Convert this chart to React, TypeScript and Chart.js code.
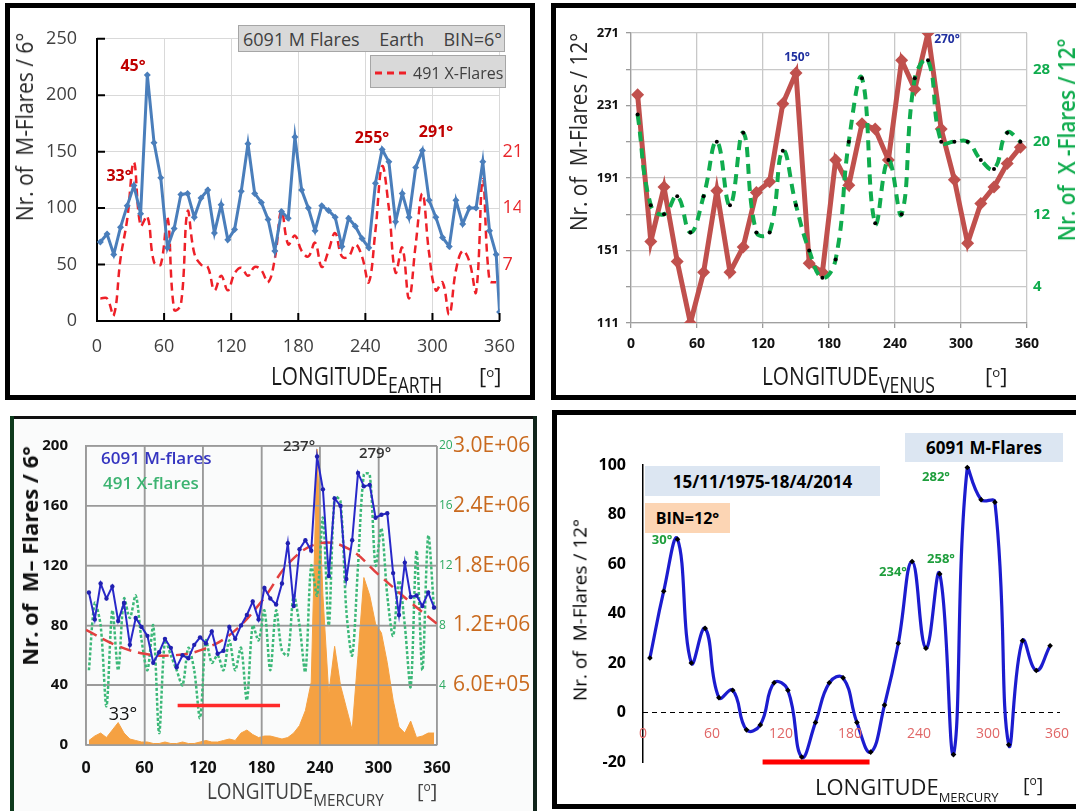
import React, { useEffect, useRef } from 'react';
import { Chart, registerables } from 'chart.js';

Chart.register(...registerables);

const FONT = '"Open Sans", "DejaVu Sans", sans-serif';

// ---------- shared categories ----------
const lonTicks = [0, 60, 120, 180, 240, 300, 360];
const bins6 = [3, 9, 15, 21, 27, 33, 39, 45, 51, 57, 63, 69, 75, 81, 87, 93, 99, 105, 111, 117, 123, 129, 135, 141, 147, 153, 159, 165, 171, 177, 183, 189, 195, 201, 207, 213, 219, 225, 231, 237, 243, 249, 255, 261, 267, 273, 279, 285, 291, 297, 303, 309, 315, 321, 327, 333, 339, 345, 351, 357];
const bins12 = [6, 18, 30, 42, 54, 66, 78, 90, 102, 114, 126, 138, 150, 162, 174, 186, 198, 210, 222, 234, 246, 258, 270, 282, 294, 306, 318, 330, 342, 354];

// ---------- panel A: Earth, BIN=6° ----------
const earthMLon = [...bins6, 360];
const earthM = [70, 77, 59, 83, 102, 120, 95, 218, 158, 127, 65, 82, 112, 113, 92, 109, 116, 78, 103, 72, 81, 115, 157, 113, 105, 90, 62, 97, 91, 163, 116, 100, 80, 102, 98, 92, 66, 91, 84, 73, 65, 122, 152, 141, 88, 113, 92, 136, 151, 107, 92, 74, 66, 107, 86, 100, 100, 141, 80, 59, 8];
const earthX = [2.8, 2.8, 0.7, 7.7, 12.6, 19.7, 11.8, 13.0, 7.3, 7.0, 12.9, 1.4, 2.0, 13.6, 8.4, 7.0, 6.7, 3.8, 5.6, 3.8, 5.9, 6.6, 5.6, 6.7, 6.3, 4.8, 7.7, 13.7, 9.5, 10.6, 8.7, 8.0, 9.7, 6.7, 8.7, 10.9, 8.0, 8.0, 9.5, 8.0, 4.8, 11.2, 19.2, 14.0, 6.0, 9.1, 2.8, 9.5, 15.8, 8.4, 3.8, 4.8, 0.8, 6.3, 8.7, 7.4, 3.6, 17.6, 5.0, 4.8];
const earthRightTicks = [7, 14, 21];

// ---------- panel B: Venus, BIN=12° ----------
const venusM = [237, 156, 186, 145, 111, 139, 184, 139, 153, 183, 189, 232, 249, 144, 139, 201, 187, 221, 218, 201, 256, 240, 271, 218, 190, 155, 177, 186, 199, 208];
const venusX = [23, 13, 12, 14, 10, 14, 20, 13, 21, 10, 10, 19, 13, 8, 5, 7, 20, 27, 11, 18, 12, 27, 29, 20, 20, 20, 18, 17, 21, 20];
const venusRightTicks = [4, 12, 20, 28];

// ---------- panel C: Mercury, BIN=6° ----------
const mercM6 = [102, 84, 108, 98, 106, 83, 95, 67, 85, 79, 73, 55, 62, 71, 65, 52, 60, 58, 67, 72, 68, 76, 61, 63, 79, 71, 80, 87, 96, 84, 105, 98, 94, 108, 135, 93, 131, 137, 130, 193, 171, 113, 165, 160, 111, 137, 182, 173, 174, 152, 154, 155, 115, 87, 122, 99, 100, 93, 102, 92];
const mercX6 = [5, 9.5, 8, 2.6, 9, 5, 9.8, 8.5, 10, 7, 5, 8, 0.8, 7, 6, 5, 4, 6.5, 5, 1.8, 7, 5.5, 6, 5, 7, 5, 6.5, 3, 8, 7, 9, 5, 9, 6.3, 6, 10, 8, 4.9, 12, 10, 15.2, 8, 16.6, 16.3, 9, 6, 12, 18.1, 18.1, 12, 14.5, 10, 7.3, 11, 8, 3.9, 13, 5, 14, 9];
const mercTrendLon = [0, 30, 60, 90, 120, 150, 180, 210, 240, 270, 300, 330, 360];
const mercTrend = [77, 67, 61, 60, 64, 75, 96, 123, 135, 131, 114, 97, 81];
const mercOrange = [45000, 90000, 120000, 75000, 150000, 225000, 120000, 60000, 45000, 30000, 30000, 15000, 15000, 30000, 15000, 15000, 30000, 15000, 15000, 30000, 45000, 30000, 30000, 45000, 60000, 45000, 120000, 150000, 105000, 75000, 90000, 90000, 75000, 60000, 75000, 120000, 195000, 345000, 630000, 2970000, 1500000, 510000, 990000, 600000, 375000, 150000, 900000, 1680000, 1500000, 1215000, 1125000, 825000, 450000, 180000, 120000, 240000, 75000, 90000, 120000, 120000];
const mercGreenTicks = [4, 8, 12, 16, 20];
const mercOrangeTicks = [600000, 1200000, 1800000, 2400000, 3000000];
const mercBarLon = [94, 199];
const mercBarLevel = [26.5, 26.5];

// ---------- panel D: Mercury, BIN=12° ----------
const merc12M = [22, 49, 70, 20, 34, 6, 9, -7, -5, 12, 9, -18, -4, 12, 14, -4, -16, 3, 28, 61, 26, 56, -17, 99, 86, 85, -13, 29, 17, 27];
const merc12BarLon = [104, 197];
const merc12BarLevel = [-20, -20];

const pts = (xs: number[], ys: number[]) => ys.map((y, i) => ({ x: xs[i], y }));
const fixedTicks = (vals: number[]) => (s: any) => { s.ticks = vals.map((v) => ({ value: v })); };
const fixW = (w: number) => (s: any) => { s.width = w; };
const fixH = (h: number) => (s: any) => { s.height = h; };

const innerTicksPlugin = {
  id: 'innerTicks',
  afterDraw(chart: any, _a: any, opts: any) {
    const { ctx, chartArea: ca, scales } = chart;
    ctx.save();
    ctx.strokeStyle = opts.color;
    ctx.lineWidth = opts.width;
    ctx.beginPath();
    scales.x.ticks.forEach((t: any) => {
      const px = scales.x.getPixelForValue(t.value);
      ctx.moveTo(px, ca.bottom);
      ctx.lineTo(px, ca.bottom - opts.len);
    });
    scales.y.ticks.forEach((t: any) => {
      const py = scales.y.getPixelForValue(t.value);
      ctx.moveTo(ca.left, py);
      ctx.lineTo(ca.left + opts.len, py);
    });
    ctx.stroke();
    ctx.restore();
  },
};

const gridOverPlugin = {
  id: 'gridOver',
  afterDatasetDraw(chart: any, args: any, opts: any) {
    if (args.index !== opts.index) return;
    const { ctx, chartArea: ca, scales } = chart;
    ctx.save();
    ctx.strokeStyle = opts.color;
    ctx.lineWidth = opts.width;
    ctx.beginPath();
    scales.x.ticks.forEach((t: any) => {
      const px = scales.x.getPixelForValue(t.value);
      ctx.moveTo(px, ca.top);
      ctx.lineTo(px, ca.bottom);
    });
    scales.y.ticks.forEach((t: any) => {
      const py = scales.y.getPixelForValue(t.value);
      ctx.moveTo(ca.left, py);
      ctx.lineTo(ca.right, py);
    });
    ctx.stroke();
    ctx.restore();
  },
};

const zeroAxisPlugin = {
  id: 'zeroAxis',
  beforeDatasetsDraw(chart: any) {
    const { ctx, chartArea: ca, scales } = chart;
    const y0 = scales.y.getPixelForValue(0);
    ctx.save();
    ctx.setLineDash([5, 4]);
    ctx.strokeStyle = '#000';
    ctx.lineWidth = 1;
    ctx.beginPath();
    ctx.moveTo(ca.left, y0);
    ctx.lineTo(ca.right + 3, y0);
    ctx.stroke();
    ctx.restore();
  },
  afterDraw(chart: any, _a: any, opts: any) {
    const { ctx, scales } = chart;
    const y0 = scales.y.getPixelForValue(0);
    ctx.save();
    ctx.font = `14px ${FONT}`;
    ctx.fillStyle = '#e06666';
    ctx.textAlign = 'center';
    ctx.textBaseline = 'middle';
    (opts.ticks as number[]).forEach((v) => ctx.fillText(String(v), scales.x.getPixelForValue(v), y0 + opts.offset));
    ctx.restore();
  },
};

const common = {
  responsive: false,
  maintainAspectRatio: false,
  animation: false as const,
  events: [] as any[],
};

function cfgEarth(): any {
  return {
    type: 'line',
    data: {
      datasets: [
        { label: '6091 M Flares', data: pts(earthMLon, earthM), yAxisID: 'y', borderColor: '#4a7ebb', backgroundColor: '#4a7ebb', borderWidth: 3, pointStyle: 'rectRot', pointRadius: 3.5, pointBorderWidth: 0, tension: 0, order: 1 },
        { label: '491 X-Flares', data: pts(bins6, earthX), yAxisID: 'y2', borderColor: '#ee2028', borderWidth: 2.5, borderDash: [8, 5], pointRadius: 0, tension: 0.4, order: 2 },
      ],
    },
    options: {
      ...common,
      layout: { padding: { top: 14, left: 0, right: 0, bottom: 0 } },
      plugins: { legend: { display: false }, tooltip: { enabled: false }, innerTicks: { len: 8, color: '#000', width: 2 } },
      scales: {
        x: {
          type: 'linear', min: 0, max: 360,
          ticks: { stepSize: 60, autoSkip: false, maxRotation: 0, padding: 15, color: '#404040', font: { family: FONT, size: 18 } },
          grid: { color: '#d9d9d9', lineWidth: 1, drawTicks: false },
          border: { color: '#000', width: 2 },
          afterFit: fixH(74),
        },
        y: {
          min: 0, max: 250,
          ticks: { stepSize: 50, padding: 20, color: '#404040', font: { family: FONT, size: 18 } },
          grid: { color: '#d9d9d9', lineWidth: 1, drawTicks: false },
          border: { color: '#000', width: 2 },
          afterFit: fixW(87),
        },
        y2: {
          position: 'right', min: 0, max: 35,
          afterBuildTicks: fixedTicks(earthRightTicks),
          ticks: { padding: 3, color: '#e8262b', font: { family: FONT, size: 18 } },
          grid: { display: false, drawTicks: false },
          border: { display: false },
          afterFit: fixW(21),
        },
      },
    },
    plugins: [innerTicksPlugin],
  };
}

function cfgVenus(): any {
  return {
    type: 'line',
    data: {
      datasets: [
        { label: 'X-Flares', data: pts(bins12, venusX), yAxisID: 'y2', borderColor: '#10ac4e', borderWidth: 4, borderDash: [10, 7], pointRadius: 2, pointBackgroundColor: '#000', pointBorderWidth: 0, tension: 0.45, order: 1 },
        { label: 'M-Flares', data: pts(bins12, venusM), yAxisID: 'y', borderColor: '#c0504d', backgroundColor: '#c0504d', borderWidth: 5, pointStyle: 'rectRot', pointRadius: 6.5, pointBorderWidth: 0, tension: 0, order: 2 },
      ],
    },
    options: {
      ...common,
      layout: { padding: { top: 25, left: 0, right: 0, bottom: 0 } },
      plugins: { legend: { display: false }, tooltip: { enabled: false } },
      scales: {
        x: {
          type: 'linear', min: 0, max: 360,
          ticks: { stepSize: 60, autoSkip: false, maxRotation: 0, padding: 8, color: '#111', font: { family: FONT, size: 14, weight: 'bold' } },
          grid: { color: '#c8c8c8', lineWidth: 1.3, drawTicks: true, tickLength: 5, tickColor: '#9a9a9a' },
          border: { color: '#a0a0a0', width: 1.3 },
          afterFit: fixH(67),
        },
        y: {
          min: 111, max: 271,
          ticks: { stepSize: 20, padding: 7, color: '#111', font: { family: FONT, size: 13, weight: 'bold' }, callback: (v: any) => ((v - 111) % 40 === 0 ? String(v) : '') },
          grid: { color: '#c8c8c8', lineWidth: 1.3, drawTicks: true, tickLength: 5, tickColor: '#9a9a9a' },
          border: { color: '#a0a0a0', width: 1.3 },
          afterFit: fixW(75),
        },
        y2: {
          position: 'right', min: 0, max: 32,
          afterBuildTicks: fixedTicks(venusRightTicks),
          ticks: { padding: 6, color: '#10ac4e', font: { family: FONT, size: 15, weight: 'bold' } },
          grid: { display: false, drawTicks: false },
          border: { display: false },
          afterFit: fixW(44),
        },
      },
    },
  };
}

function cfgMerc6(): any {
  return {
    type: 'line',
    data: {
      datasets: [
        { label: 'M-flares', data: pts(bins6, mercM6), yAxisID: 'y', borderColor: '#2828c8', backgroundColor: '#2020b0', borderWidth: 2, pointRadius: 2.2, pointBorderWidth: 0, tension: 0, order: 1 },
        { label: 'bar', data: pts(mercBarLon, mercBarLevel), yAxisID: 'y', borderColor: '#ff2a2a', borderWidth: 3.5, pointRadius: 0, order: 2 },
        { label: 'trend', data: pts(mercTrendLon, mercTrend), yAxisID: 'y', borderColor: '#e2403f', borderWidth: 2.5, borderDash: [12, 7], pointRadius: 0, tension: 0.4, order: 3 },
        { label: 'X-flares', data: pts(bins6, mercX6), yAxisID: 'yg', borderColor: '#3cb878', borderWidth: 2.5, borderDash: [3, 2], pointRadius: 0, tension: 0.3, order: 4 },
        { label: 'orange', data: pts(bins6, mercOrange), yAxisID: 'yo', borderColor: '#f5a142', backgroundColor: '#f5a142', borderWidth: 1, fill: 'origin', pointRadius: 0, tension: 0, order: 10 },
      ],
    },
    options: {
      ...common,
      layout: { padding: { top: 17, left: 0, right: 0, bottom: 0 } },
      plugins: { legend: { display: false }, tooltip: { enabled: false }, gridOver: { index: 4, color: '#9a9a9a', width: 1.5 } },
      scales: {
        x: {
          type: 'linear', min: 0, max: 360,
          ticks: { stepSize: 60, autoSkip: false, maxRotation: 0, padding: 14, color: '#111', font: { family: FONT, size: 16, weight: 'bold' } },
          grid: { color: '#9a9a9a', lineWidth: 1.5, drawTicks: false },
          border: { color: '#9a9a9a', width: 1.5 },
          afterFit: fixH(66),
        },
        y: {
          min: 0, max: 200,
          ticks: { stepSize: 40, padding: 18, color: '#111', font: { family: FONT, size: 15, weight: 'bold' } },
          grid: { color: '#9a9a9a', lineWidth: 1.5, drawTicks: false },
          border: { color: '#9a9a9a', width: 1.5 },
          afterFit: fixW(72),
        },
        yg: {
          position: 'right', min: 0, max: 20,
          afterBuildTicks: fixedTicks(mercGreenTicks),
          ticks: { padding: 2, color: '#2eaa62', font: { family: FONT, size: 12 } },
          grid: { display: false, drawTicks: false },
          border: { display: false },
          afterFit: fixW(16),
        },
        yo: {
          position: 'right', min: 0, max: 3000000,
          afterBuildTicks: fixedTicks(mercOrangeTicks),
          ticks: {
            padding: 0, color: '#c96a1e', font: { family: FONT, size: 21 },
            callback: (v: any) => (v >= 1000000 ? (v / 1000000).toFixed(1) + 'E+06' : (v / 100000).toFixed(1) + 'E+05'),
          },
          grid: { display: false, drawTicks: false },
          border: { display: false },
          afterFit: fixW(80),
        },
      },
    },
    plugins: [gridOverPlugin],
  };
}

function cfgMerc12(): any {
  return {
    type: 'line',
    data: {
      datasets: [
        { label: 'M-Flares', data: pts(bins12, merc12M), borderColor: '#1c1ccf', borderWidth: 3.2, pointStyle: 'rectRot', pointRadius: 2.8, pointBackgroundColor: '#000', pointBorderWidth: 0, tension: 0.45, clip: false, order: 1 },
        { label: 'bar', data: pts(merc12BarLon, merc12BarLevel), borderColor: '#ff0000', borderWidth: 5, pointRadius: 0, clip: false, order: 2 },
      ],
    },
    options: {
      ...common,
      layout: { padding: { top: 50, left: 0, right: 15, bottom: 44 } },
      plugins: { legend: { display: false }, tooltip: { enabled: false }, zeroAxis: { ticks: lonTicks, offset: 22 } },
      scales: {
        x: { type: 'linear', min: 0, max: 360, display: false },
        y: {
          min: -20, max: 100,
          ticks: { stepSize: 20, padding: 17, color: '#000', font: { family: FONT, size: 16, weight: 'bold' } },
          grid: { display: false, drawTicks: false },
          border: { color: '#000', width: 1.5 },
          afterFit: fixW(86),
        },
      },
    },
    plugins: [zeroAxisPlugin],
  };
}

type TP = { x: number; y: number; a?: 'c' | 'l' | 'tl'; s?: React.CSSProperties; children: React.ReactNode };
const T = ({ x, y, a = 'c', s, children }: TP) => (
  <div
    style={{
      position: 'absolute', left: x, top: y, whiteSpace: 'nowrap', lineHeight: 1,
      transform: a === 'c' ? 'translate(-50%,-50%)' : a === 'l' ? 'translate(0,-50%)' : 'none',
      ...s,
    }}
  >
    {children}
  </div>
);

const Rot = ({ x, y, sx = 1, s, children }: { x: number; y: number; sx?: number; s?: React.CSSProperties; children: React.ReactNode }) => (
  <div style={{ position: 'absolute', left: x, top: y, whiteSpace: 'nowrap', lineHeight: 1, transform: `translate(-50%,-50%) rotate(-90deg) scaleX(${sx})`, ...s }}>{children}</div>
);

const XTitle = ({ x, base, fs, sub, subFs, shift, sx, color }: { x: number; base: number; fs: number; sub: string; subFs: number; shift: number; sx: number; color: string }) => (
  <div style={{ position: 'absolute', left: x, top: base - 0.888 * fs, fontSize: fs, lineHeight: 1, whiteSpace: 'nowrap', color, transform: `scaleX(${sx})`, transformOrigin: 'left top' }}>
    LONGITUDE<span style={{ fontSize: subFs, position: 'relative', top: shift }}>{sub}</span>
  </div>
);

const Deg = ({ x, base, fs, color }: { x: number; base: number; fs: number; color: string }) => (
  <div style={{ position: 'absolute', left: x, top: base - 0.888 * fs, fontSize: fs, lineHeight: 1, whiteSpace: 'nowrap', color }}>
    [<span style={{ fontSize: fs * 0.6, position: 'relative', top: -fs * 0.35 }}>o</span>]
  </div>
);

export default function App() {
  const r1 = useRef<HTMLCanvasElement>(null);
  const r2 = useRef<HTMLCanvasElement>(null);
  const r3 = useRef<HTMLCanvasElement>(null);
  const r4 = useRef<HTMLCanvasElement>(null);

  useEffect(() => {
    document.body.style.margin = '0';
    Chart.defaults.font.family = FONT;
    const charts = [
      new Chart(r1.current as HTMLCanvasElement, cfgEarth()),
      new Chart(r2.current as HTMLCanvasElement, cfgVenus()),
      new Chart(r3.current as HTMLCanvasElement, cfgMerc6()),
      new Chart(r4.current as HTMLCanvasElement, cfgMerc12()),
    ];
    return () => charts.forEach((c) => c.destroy());
  }, []);

  const cv = (l: number, t: number, w: number, h: number): React.CSSProperties => ({ position: 'absolute', left: l, top: t, width: w, height: h });

  return (
    <div style={{ position: 'fixed', left: 0, top: 0, width: 1076, height: 811, overflow: 'hidden', background: '#fff', fontFamily: FONT }}>
      {/* frames */}
      <div style={{ position: 'absolute', left: 5, top: 3, width: 530, height: 397, border: '5px solid #000', boxSizing: 'border-box' }} />
      <div style={{ position: 'absolute', left: 551, top: 3, width: 540, height: 397, border: '5px solid #000', boxSizing: 'border-box' }} />
      <div style={{ position: 'absolute', left: 14, top: 419, width: 519, height: 392, background: '#fafbfb' }} />
      <div style={{ position: 'absolute', left: 10, top: 416, width: 527, height: 3, background: '#111' }} />
      <div style={{ position: 'absolute', left: 10, top: 416, width: 4, height: 395, background: '#0e3a1c' }} />
      <div style={{ position: 'absolute', left: 533, top: 416, width: 4, height: 395, background: '#10241a' }} />
      <div style={{ position: 'absolute', left: 552, top: 410, width: 530, height: 399, border: '5px solid #000', boxSizing: 'border-box' }} />

      {/* canvases */}
      <canvas ref={r1} width={520} height={387} style={cv(10, 8, 520, 387)} />
      <canvas ref={r2} width={515} height={382} style={cv(556, 8, 515, 382)} />
      <canvas ref={r3} width={519} height={392} style={cv(14, 419, 519, 392)} />
      <canvas ref={r4} width={515} height={391} style={cv(557, 415, 515, 391)} />

      {/* ---- panel A text ---- */}
      <Rot x={24} y={127} sx={0.87} s={{ fontSize: 24, color: '#262626' }}>Nr. of&nbsp; M-Flares / 6°</Rot>
      <XTitle x={271} base={385} fs={26} sub="EARTH" subFs={22} shift={8} sx={0.8} color="#1a1a1a" />
      <Deg x={479} base={384} fs={22} color="#1a1a1a" />
      <div style={{ position: 'absolute', left: 238, top: 25, width: 267, height: 27, background: '#d9d9d9', border: '1px solid #a6a6a6', boxSizing: 'border-box', display: 'flex', alignItems: 'center', justifyContent: 'space-between', padding: '0 2px 0 4px', fontSize: 18, color: '#404040', lineHeight: 1, whiteSpace: 'nowrap' }}>
        <span>6091 M Flares</span>
        <span>Earth</span>
        <span>BIN=6°</span>
      </div>
      <div style={{ position: 'absolute', left: 370, top: 55, width: 136, height: 33, background: '#d9d9d9', border: '1px solid #a6a6a6', boxSizing: 'border-box' }} />
      <svg style={{ position: 'absolute', left: 375, top: 71 }} width={33} height={4}>
        <line x1={0} y1={2} x2={33} y2={2} stroke="#ee2028" strokeWidth={3} strokeDasharray="7 5" />
      </svg>
      <T x={413} y={73} a="l" s={{ fontSize: 16, color: '#404040' }}>491 X-Flares</T>
      <T x={133} y={65} s={{ fontSize: 16, fontWeight: 700, color: '#c00000' }}>45°</T>
      <T x={119} y={175} s={{ fontSize: 16, fontWeight: 700, color: '#c00000' }}>33°</T>
      <T x={372} y={137} s={{ fontSize: 16, fontWeight: 700, color: '#c00000' }}>255°</T>
      <T x={436} y={131} s={{ fontSize: 16, fontWeight: 700, color: '#c00000' }}>291°</T>

      {/* ---- panel B text ---- */}
      <Rot x={578} y={132} sx={0.86} s={{ fontSize: 24, color: '#262626' }}>Nr. of&nbsp; M-Flares / 12°</Rot>
      <Rot x={1066} y={140} sx={0.86} s={{ fontSize: 24, color: '#10ac4e', fontWeight: 600 }}>Nr. of&nbsp; X -Flares / 12°</Rot>
      <XTitle x={762} base={385} fs={26} sub="VENUS" subFs={22} shift={8} sx={0.8} color="#1a1a1a" />
      <Deg x={985} base={384} fs={22} color="#1a1a1a" />
      <T x={797} y={57} s={{ fontSize: 12, fontWeight: 700, color: '#1f2f9f' }}>150°</T>
      <T x={947} y={39} s={{ fontSize: 12, fontWeight: 700, color: '#1f2f9f' }}>270°</T>

      {/* ---- panel C text ---- */}
      <Rot x={29} y={556} s={{ fontSize: 22, fontWeight: 700, color: '#111' }}>Nr. of&nbsp; M– Flares / 6°</Rot>
      <XTitle x={207} base={800} fs={21} sub="MERCURY" subFs={17} shift={7} sx={0.9} color="#404040" />
      <Deg x={417} base={799} fs={20} color="#404040" />
      <T x={101} y={457} a="l" s={{ fontSize: 17, fontWeight: 600, color: '#3535c0' }}>6091 M-flares</T>
      <T x={103} y={482} a="l" s={{ fontSize: 17, fontWeight: 600, color: '#3cb371' }}>491 X-flares</T>
      <T x={299} y={445} s={{ fontSize: 15, fontWeight: 600, color: '#333' }}>237°</T>
      <T x={375} y={452} s={{ fontSize: 15, fontWeight: 600, color: '#333' }}>279°</T>
      <T x={123} y={713} s={{ fontSize: 18, color: '#111' }}>33°</T>

      {/* ---- panel D text ---- */}
      <Rot x={580} y={610} s={{ fontSize: 19, color: '#000' }}>Nr. of&nbsp; M-Flares / 12°</Rot>
      <XTitle x={815} base={795} fs={22} sub="MERCURY" subFs={13} shift={7} sx={1} color="#1a1a1a" />
      <Deg x={1023} base={793} fs={20} color="#1a1a1a" />
      <div style={{ position: 'absolute', left: 905, top: 433, width: 158, height: 29, background: '#dce6f2', display: 'flex', alignItems: 'center', justifyContent: 'center', fontSize: 17, fontWeight: 700, color: '#000', whiteSpace: 'nowrap' }}>6091 M-Flares</div>
      <div style={{ position: 'absolute', left: 645, top: 466, width: 235, height: 30, background: '#dce6f2', display: 'flex', alignItems: 'center', justifyContent: 'center', fontSize: 17, fontWeight: 700, color: '#000', whiteSpace: 'nowrap' }}>15/11/1975-18/4/2014</div>
      <div style={{ position: 'absolute', left: 645, top: 503, width: 85, height: 30, background: '#fcd5b4', display: 'flex', alignItems: 'center', justifyContent: 'center', fontSize: 16, fontWeight: 700, color: '#000', whiteSpace: 'nowrap' }}>BIN=12°</div>
      <T x={662} y={539} s={{ fontSize: 13, fontWeight: 700, color: '#1e9e3c' }}>30°</T>
      <T x={936} y={476} s={{ fontSize: 13, fontWeight: 700, color: '#1e9e3c' }}>282°</T>
      <T x={893} y={571} s={{ fontSize: 13, fontWeight: 700, color: '#1e9e3c' }}>234°</T>
      <T x={941} y={558} s={{ fontSize: 13, fontWeight: 700, color: '#1e9e3c' }}>258°</T>
    </div>
  );
}
